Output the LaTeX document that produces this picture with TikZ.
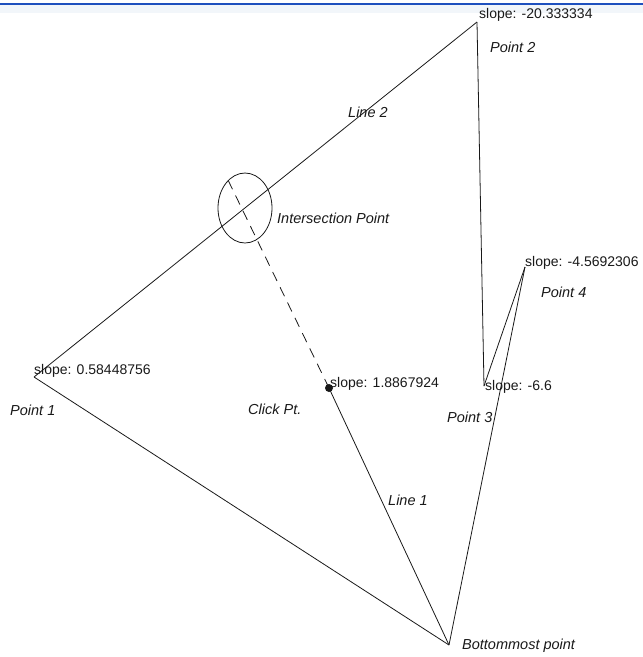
\documentclass[tikz,border=0pt]{standalone}
\usepackage{fontspec}
\setmainfont{Liberation Sans}
\usetikzlibrary{shapes.geometric}
\definecolor{topblue}{RGB}{30,80,190}
\definecolor{band}{RGB}{242,246,250}
\definecolor{ink}{RGB}{25,25,25}
\begin{document}
\begin{tikzpicture}[x=1pt,y=-1pt,
  edge/.style={draw=ink,line width=0.8pt},
  slopelbl/.style={anchor=west,inner sep=0pt,text=ink,font=\fontsize{14}{16}\selectfont},
  ptlbl/.style={anchor=west,inner sep=0pt,text=ink,font=\fontsize{14.5}{16}\selectfont\itshape},
  vtx/.style={inner sep=0pt,minimum size=0pt}]
\useasboundingbox (0,0) rectangle (643,657);
\fill[band] (0,5) rectangle (643,13);
\draw[topblue,line width=2.2pt] (0,4) -- (643,4);
% vertices
\coordinate (P1) at (34,377);
\coordinate (P2) at (477,22);
\coordinate (P3) at (484,386);
\coordinate (P4) at (525,267);
\coordinate (B) at (449,645);
\coordinate (C) at (329,388);
\coordinate (D) at (228,180);
% polygon edges
\draw[edge] (P1) -- (P2);
\draw[edge] (P2) -- (P3);
\draw[edge] (P3) -- (P4);
\draw[edge] (P4) -- (B);
\draw[edge] (B) -- (P1);
% line 1
\draw[edge] (B) -- (C);
\draw[edge,dash pattern=on 10pt off 7pt] (C) -- (D);
\fill[ink] (C) circle (4pt);
% intersection ellipse
\node[draw=ink,line width=0.8pt,ellipse,minimum width=54pt,minimum height=70pt,inner sep=0pt] (I) at (245,208) {};
% labels
\node[slopelbl] (s2) at (479,15) {slope: -20.333334};
\node[ptlbl] (l2) at (490,47) {Point 2};
\node[ptlbl] (ln2) at (348,112) {Line 2};
\node[ptlbl] (li) at (277,218) {Intersection Point};
\node[slopelbl] (s4) at (525,263) {slope: -4.5692306};
\node[ptlbl] (l4) at (541,292) {Point 4};
\node[slopelbl] (s1) at (34,371) {slope: 0.58448756};
\node[ptlbl] (l1) at (10,410) {Point 1};
\node[slopelbl] (sc) at (330,384) {slope: 1.8867924};
\node[ptlbl] (lc) at (248,409) {Click Pt.};
\node[slopelbl] (s3) at (485,387) {slope: -6.6};
\node[ptlbl] (l3) at (447,417) {Point 3};
\node[ptlbl] (ln1) at (388,500) {Line 1};
\node[ptlbl] (lb) at (462,646) {Bottommost point};
\end{tikzpicture}
\end{document}
